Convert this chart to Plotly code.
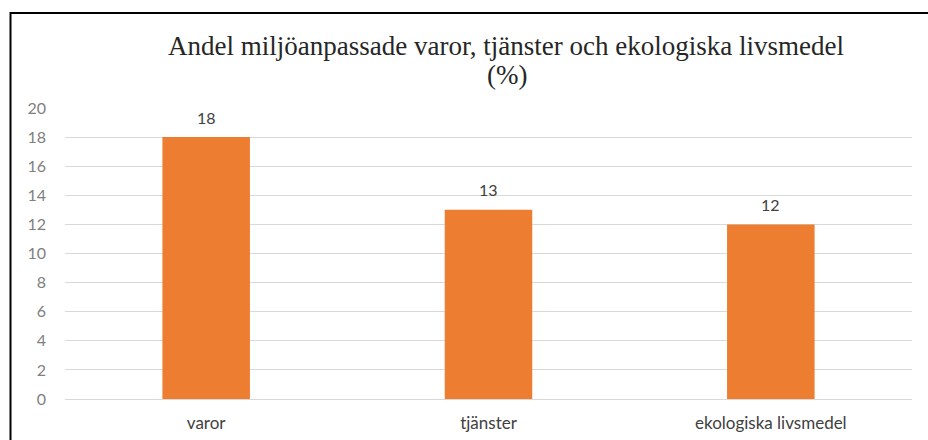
import plotly.graph_objects as go

categories = ["varor", "tjänster", "ekologiska livsmedel"]
values = [18, 13, 12]
y_ticks = [0, 2, 4, 6, 8, 10, 12, 14, 16, 18, 20]
title_line1 = "Andel miljöanpassade varor, tjänster och ekologiska livsmedel"
title_line2 = "(%)"

W, H = 928, 440
SX0, SX1, SY0, SY1 = 65, 912, 108, 399
L, T, R, B = SX0, SY0, W - SX1, H - SY1
pw, ph = W - L - R, H - T - B

def px(sx):
    return (sx - SX0) / pw

def py(sy):
    return (SY1 - sy) / ph

fig = go.Figure()
fig.add_trace(go.Bar(
    x=categories, y=values,
    marker=dict(color="#ED7D31", line=dict(width=0)),
    width=0.31,
    hoverinfo="skip",
))

for c, v in zip(categories, values):
    fig.add_annotation(x=c, y=v, text=str(v), showarrow=False, yshift=20,
                       font=dict(family="Lato, Open Sans, sans-serif", size=16, color="#404040"))

title_font = dict(family="Liberation Serif, Times New Roman, serif", size=27, color="#262626")
fig.add_annotation(xref="paper", yref="paper", x=px(506), y=py(46), text=title_line1,
                   showarrow=False, xanchor="center", yanchor="middle", font=title_font)
fig.add_annotation(xref="paper", yref="paper", x=px(507), y=py(75), text=title_line2,
                   showarrow=False, xanchor="center", yanchor="middle", font=title_font)

fig.add_shape(type="rect", xref="paper", yref="paper",
              x0=px(10.5), x1=px(950), y0=py(13), y1=py(470),
              line=dict(color="#000000", width=2), fillcolor="rgba(0,0,0,0)", layer="above")

fig.update_layout(
    width=W, height=H,
    margin=dict(l=L, r=R, t=T, b=B, pad=0, autoexpand=False),
    paper_bgcolor="white", plot_bgcolor="white",
    showlegend=False,
    bargap=0.69,
    xaxis=dict(showgrid=False, showline=False, ticks="", ticklabelstandoff=12, automargin=False,
               tickfont=dict(family="Lato, Open Sans, sans-serif", size=17, color="#404040"),
               fixedrange=True),
    yaxis=dict(range=[0, 20], tickvals=y_ticks, showgrid=True, gridcolor="#d9d9d9", gridwidth=1,
               zeroline=True, zerolinecolor="#d9d9d9", zerolinewidth=1, showline=False,
               ticks="", ticklabelstandoff=18, automargin=False,
               tickfont=dict(family="Lato, Open Sans, sans-serif", size=16, color="#808080"),
               fixedrange=True),
)

fig.write_html("out.html", config={"displayModeBar": False},
               post_script="document.body.style.margin='0px';document.body.style.overflow='hidden';")
